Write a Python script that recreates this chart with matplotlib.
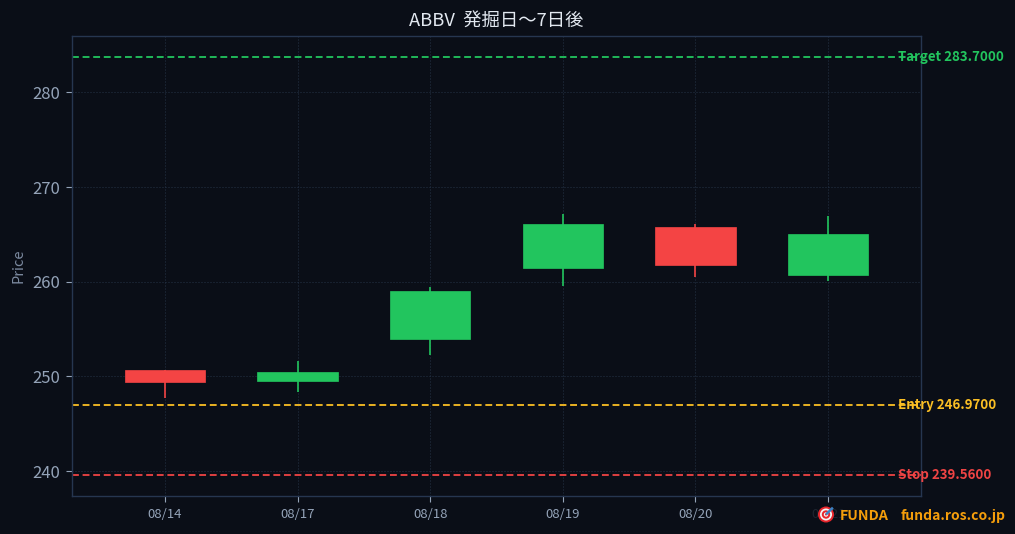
"""Candlestick chart for ABBV, earnings date to 7 days after."""
import matplotlib

matplotlib.use("Agg")
import matplotlib.pyplot as plt
from matplotlib.patches import Circle, Rectangle

plt.rcParams["font.family"] = ["Noto Sans CJK JP", "DejaVu Sans"]

dates = ["08/14", "08/17", "08/18", "08/19", "08/20", "08/21"]
opens = [250.7, 249.5, 253.9, 261.5, 265.8, 260.7]
closes = [249.4, 250.5, 259.0, 266.1, 261.8, 265.0]
highs = [250.7, 251.6, 259.4, 267.2, 266.1, 267.0]
lows = [247.7, 248.3, 252.3, 259.5, 260.5, 260.1]

target = 283.70
entry = 246.97
stop = 239.56
y_ticks = [240, 250, 260, 270, 280]

BG = "#0a0e17"
UP = "#22c55e"
DOWN = "#f44444"
AMBER = "#fbbf24"
LEVEL_RED = "#ef4444"
SPINE = "#263650"
TICK = "#94a3b8"
BRAND = "#f59e0b"

W, H = 1015, 534
fig = plt.figure(figsize=(W / 100, H / 100), dpi=100, facecolor=BG)
ax = fig.add_axes([72 / W, 1 - 496 / H, (921 - 72) / W, (496 - 36) / H], facecolor=BG)

width = 0.605
for i, (o, c, hi, lo) in enumerate(zip(opens, closes, highs, lows)):
    color = UP if c >= o else DOWN
    ax.plot([i, i], [lo, hi], color=color, linewidth=1.2, solid_capstyle="butt", zorder=3)
    ax.add_patch(Rectangle((i - width / 2, min(o, c)), width, abs(c - o),
                           facecolor=color, edgecolor=color, linewidth=0.5, zorder=4))

ax.set_xlim(-0.7, 5.7)
ax.set_ylim(237.36, 285.97)
ax.set_xticks(range(len(dates)), dates)
ax.set_yticks(y_ticks)
ax.grid(True, color="#2a3a50", linestyle=(0, (1.2, 2.4)), linewidth=0.6)
ax.set_axisbelow(True)
ax.tick_params(axis="x", colors=TICK, labelsize=9.5, length=4.3, pad=4)
ax.tick_params(axis="y", colors=TICK, labelsize=12, length=4.3, pad=4)
ax.set_ylabel("Price", color="#7c8aa0", fontsize=10.5, labelpad=5)
for spine in ax.spines.values():
    spine.set_color(SPINE)
    spine.set_linewidth(1.0)

ax.set_title("ABBV  発掘日〜7日後", color="#e2e8f0", fontsize=13.2, pad=7)

levels = [("Target", target, UP), ("Entry", entry, AMBER), ("Stop", stop, LEVEL_RED)]
for name, value, color in levels:
    ax.axhline(value, color=color, linestyle=(0, (3.8, 2.07)), linewidth=1.3, zorder=2)
    ax.annotate(f"{name} {value:.4f}", xy=(1, value), xycoords=("axes fraction", "data"),
                xytext=(-16.5, 0), textcoords="offset points", color=color, fontsize=9.6,
                fontweight="bold", va="center", ha="left", annotation_clip=False, zorder=6)

# watermark sits over the last tick label
fig.patches.append(Rectangle((812 / W, 1 - 528 / H), 197 / W, 24 / H, transform=fig.transFigure,
                             facecolor=BG, edgecolor="none", alpha=0.85, zorder=8))
fig.text(840 / W, 1 - 516 / H, "FUNDA", color=BRAND, fontsize=10.3, fontweight="bold",
         va="center", ha="left", zorder=9)
fig.text(1006 / W, 1 - 516 / H, "funda.ros.co.jp", color=BRAND, fontsize=10, fontweight="bold",
         va="center", ha="right", zorder=9)

# target emoji drawn from circles, no emoji font available
cx, cy = 826, 514.5
icon = fig.add_axes([0, 0, 1, 1], facecolor="none", zorder=10)
icon.set_xlim(0, W)
icon.set_ylim(H, 0)
icon.axis("off")
for radius, color in [(8, "#e8262c"), (6, "#f4f4f4"), (4.2, "#e8262c"), (2.2, "#f4f4f4"), (1, "#e8262c")]:
    icon.add_patch(Circle((cx, cy), radius, facecolor=color, edgecolor="none"))
icon.plot([cx + 1, cx + 6], [cy - 1, cy - 6], color="#3b82c4", linewidth=1.8)

fig.savefig("out.png", dpi=100, facecolor=BG)
